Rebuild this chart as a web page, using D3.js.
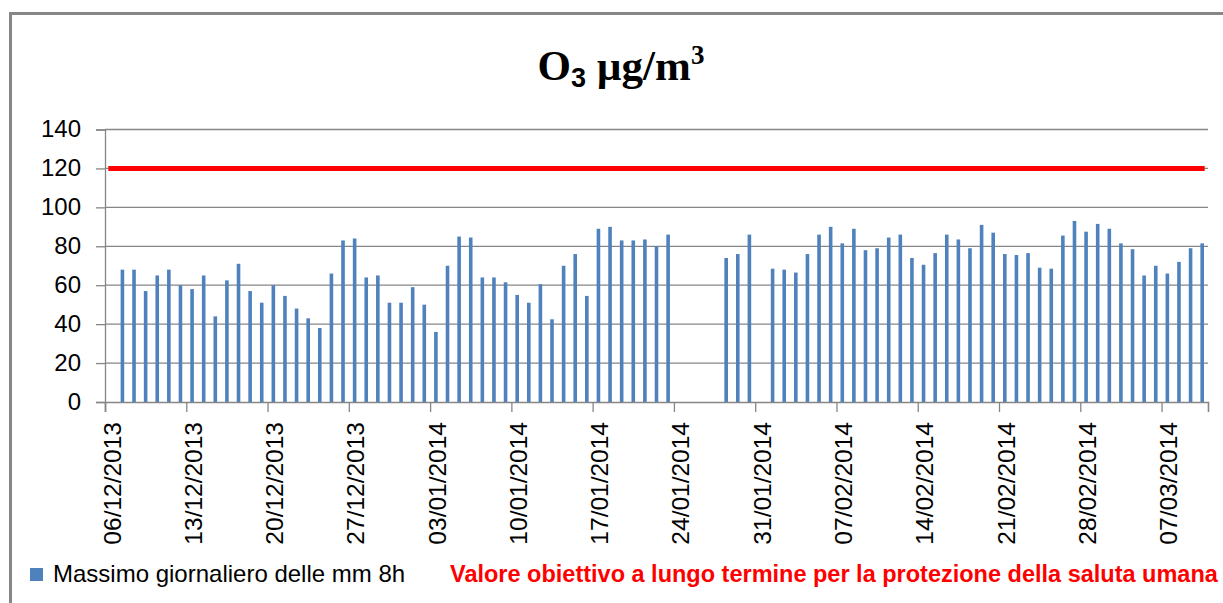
<!DOCTYPE html>
<html>
<head>
<meta charset="utf-8">
<script src="https://cdn.jsdelivr.net/npm/d3@7"></script>
<style>
  body { margin: 0; background: #fff; }
  svg { display: block; }
  .tick text { font-family: "Liberation Sans", Arial, sans-serif; fill: #000; }
</style>
</head>
<body>
<script>
// daily O3 values (max of 8h moving mean), first day = 06/12/2013, null = no data
const startDate = "06/12/2013";
const o3Values = [
  null,
  68, 68, 57, 65, 68, 60, 58, 65, 44, 62.5, 71, 57, 51, 60, 54.5, 48, 43, 38, 66, 83, 84, 64, 65,
  51, 51, 59, 50, 36, 70, 85, 84.5, 64, 64, 61.5, 55, 51, 60.5, 42.5, 70, 76, 54.5, 89, 90, 83, 83, 83.5, 80, 86,
  null, null, null, null,
  74, 76, 86,
  null,
  68.5, 68, 66.5, 76, 86, 90, 81.5, 89, 78, 79, 84.5, 86, 74, 70.5, 76.5, 86,
  83.5, 79, 91, 87, 76, 75.5, 76.5, 69, 68.5, 85.5, 93, 87.5, 91.5, 89, 81.5, 78.5, 65, 70, 66, 72, 79, 81.5
];
const targetValue = 120;
const yTicks = [0, 20, 40, 60, 80, 100, 120, 140];
const xTickLabels = [
  "06/12/2013", "13/12/2013", "20/12/2013", "27/12/2013", "03/01/2014", "10/01/2014", "17/01/2014",
  "24/01/2014", "31/01/2014", "07/02/2014", "14/02/2014", "21/02/2014", "28/02/2014", "07/03/2014"
];
const legendLabels = [
  "Massimo giornaliero delle mm 8h",
  "Valore obiettivo a lungo termine per la protezione della saluta umana"
];

const colors = {
  bar: "#4F81BD",
  target: "#FF0000",
  grid: "#868686"
};

const w = 1223;
const h = 603;
const plot = { left: 105, right: 1208, top: 129.5, bottom: 402 };

const parse = d3.utcParse("%d/%m/%Y");
const fmt = d3.utcFormat("%d/%m/%Y");
const day0 = parse(startDate);

const data = o3Values.map((v, i) => ({ date: d3.utcDay.offset(day0, i), value: v }));

const xScale = d3.scaleUtc()
  .domain([day0, d3.utcDay.offset(day0, o3Values.length)])
  .range([plot.left, plot.right]);

const yScale = d3.scaleLinear()
  .domain([0, 140])
  .range([plot.bottom, plot.top]);

// bars sit in the middle of their day slot
const dayMid = d => xScale(d3.utcHour.offset(d, 12));

const svg = d3.select("body")
  .append("svg")
  .attr("width", w)
  .attr("height", h);

// chart frame
svg.append("path")
  .attr("d", `M10.5,${h + 5}V13.5H${w + 5}`)
  .attr("fill", "none")
  .attr("stroke", colors.grid)
  .attr("stroke-width", 3);

// title: O3 µg/m3
const title = svg.append("text")
  .attr("x", 621)
  .attr("y", 80)
  .attr("text-anchor", "middle")
  .attr("font-family", "'Liberation Serif', 'Times New Roman', serif")
  .attr("font-weight", "bold")
  .attr("font-size", 43);
title.append("tspan").text("O");
title.append("tspan").text("3")
  .attr("font-family", "'Liberation Sans', Arial, sans-serif")
  .attr("font-size", 27)
  .attr("dy", 7);
title.append("tspan").text(" µg/m").attr("dy", -7);
title.append("tspan").text("3")
  .attr("font-size", 27)
  .attr("dy", -16);

// y axis + gridlines
const yAxis = d3.axisLeft(yScale)
  .tickValues(yTicks)
  .tickSize(9)
  .tickPadding(15)
  .tickFormat(d3.format("d"));

svg.append("g")
  .attr("transform", `translate(${plot.left},0)`)
  .call(yAxis)
  .call(g => g.selectAll(".tick line").attr("stroke", colors.grid).attr("stroke-width", 1.3))
  .call(g => g.select(".domain").attr("stroke", colors.grid).attr("stroke-width", 1.3))
  .call(g => g.selectAll(".tick text").attr("font-size", 24).attr("dy", "0.3em"));

svg.append("g")
  .selectAll("line")
  .data(yTicks.filter(d => d > 0))
  .enter()
  .append("line")
  .attr("x1", plot.left)
  .attr("x2", plot.right)
  .attr("y1", d => yScale(d))
  .attr("y2", d => yScale(d))
  .attr("stroke", colors.grid)
  .attr("stroke-width", 1.3);

// bars
svg.append("g")
  .selectAll("rect")
  .data(data.filter(d => d.value !== null))
  .enter()
  .append("rect")
  .attr("x", d => dayMid(d.date) - 1.8)
  .attr("y", d => yScale(d.value))
  .attr("width", 3.6)
  .attr("height", d => yScale(0) - yScale(d.value))
  .attr("fill", colors.bar);

// x axis with rotated dates
const xAxis = d3.axisBottom(xScale)
  .tickValues(xTickLabels.map(parse))
  .tickSize(10)
  .tickFormat(fmt);

svg.append("g")
  .attr("transform", `translate(0,${plot.bottom})`)
  .call(xAxis)
  .call(g => g.select(".domain").attr("stroke", colors.grid).attr("stroke-width", 1.6))
  .call(g => g.selectAll(".tick line").attr("stroke", colors.grid).attr("stroke-width", 1.3))
  .call(g => g.selectAll(".tick text")
    .attr("font-size", 24.5)
    .attr("text-anchor", "end")
    .attr("transform", "rotate(-90)")
    .attr("x", -20)
    .attr("y", 15)
    .attr("dy", 0));

// target value line
const line = d3.line()
  .x(d => dayMid(d.date))
  .y(() => yScale(targetValue));

svg.append("path")
  .datum([data[0], data[data.length - 1]])
  .attr("d", line)
  .attr("fill", "none")
  .attr("stroke", colors.target)
  .attr("stroke-width", 5)
  .attr("stroke-linecap", "square");

// legend
const legend = svg.append("g")
  .attr("font-family", "'Liberation Sans', Arial, sans-serif")
  .attr("font-size", 24);

legend.append("rect")
  .attr("x", 30)
  .attr("y", 568)
  .attr("width", 13)
  .attr("height", 13)
  .attr("fill", colors.bar);

legend.append("text")
  .attr("x", 53)
  .attr("y", 582)
  .attr("fill", "#000")
  .text(legendLabels[0]);

legend.append("text")
  .attr("x", 450)
  .attr("y", 582)
  .attr("fill", colors.target)
  .attr("font-weight", "bold")
  .attr("font-size", 23.5)
  .text(legendLabels[1]);
</script>
</body>
</html>
